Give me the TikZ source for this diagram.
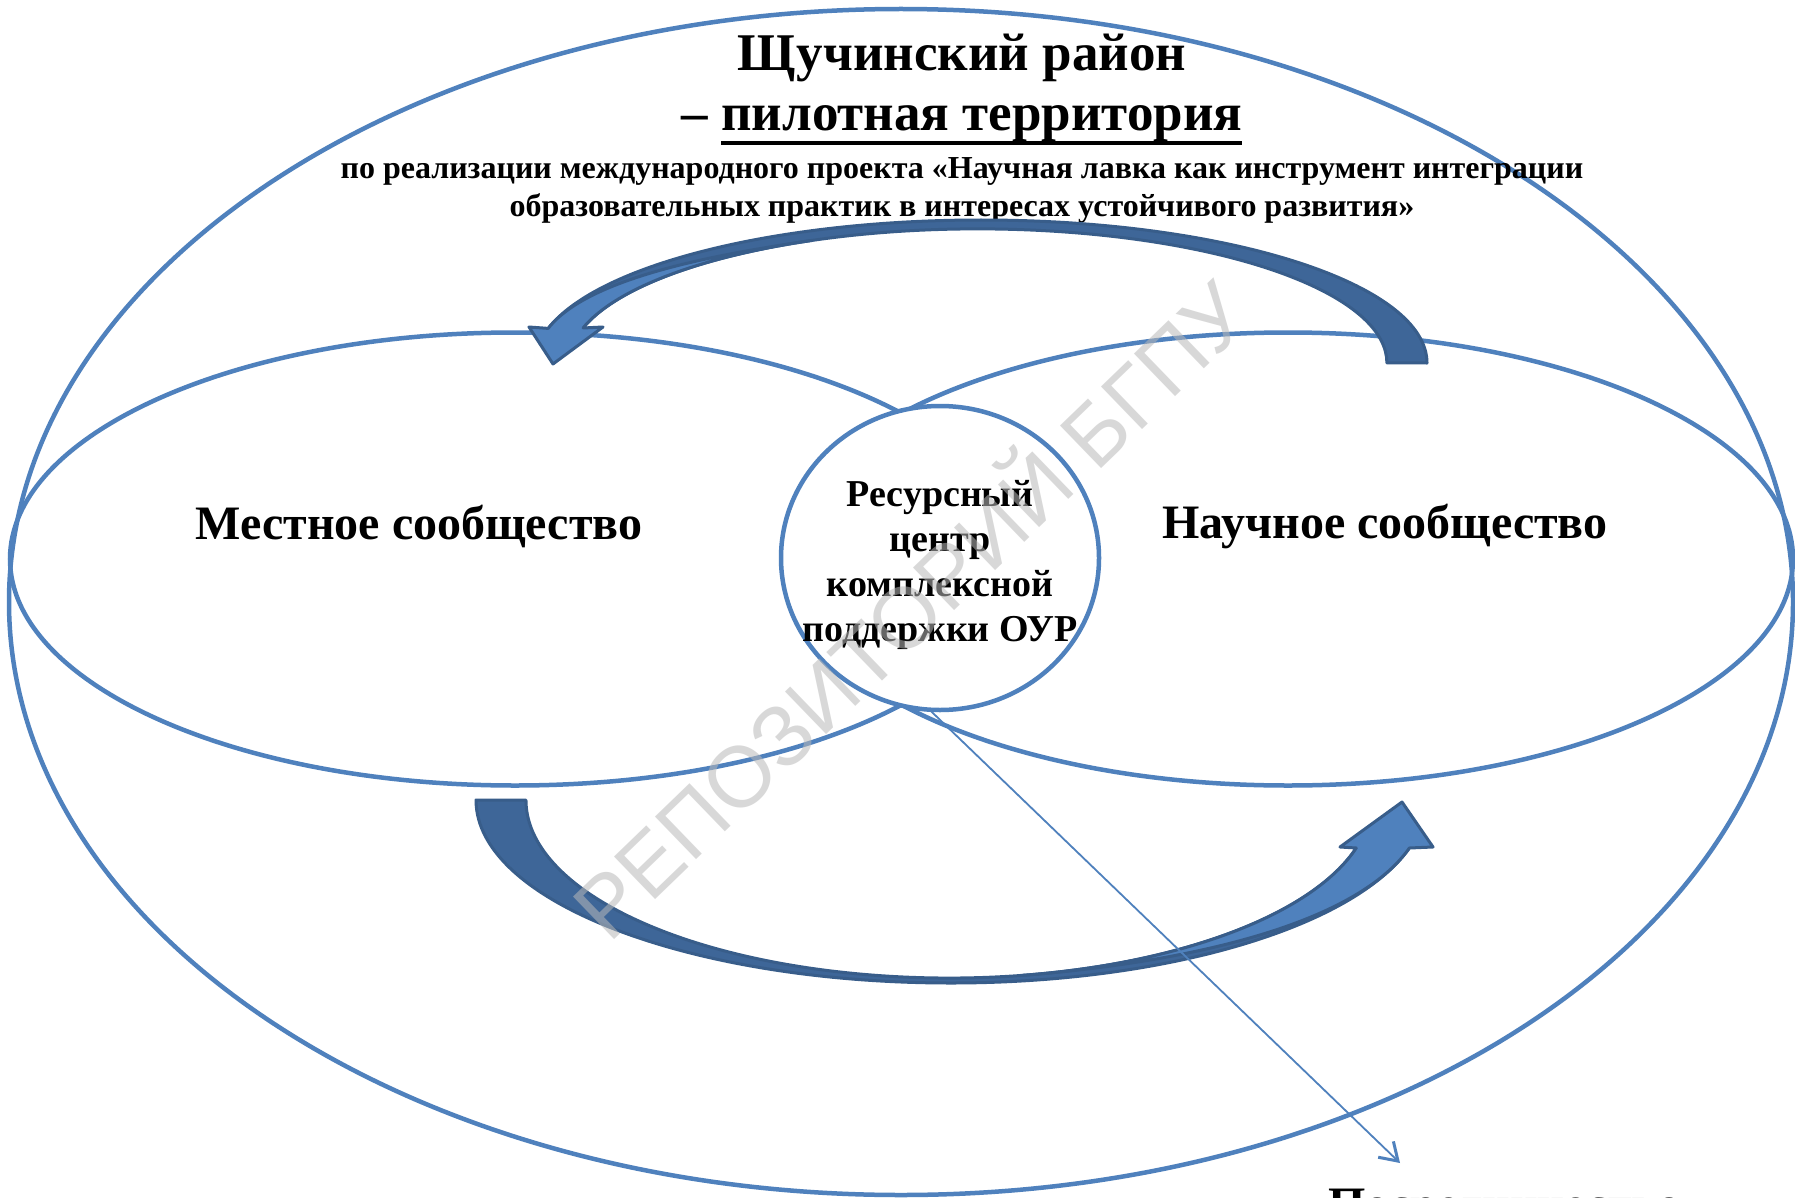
\documentclass[tikz,border=0pt]{standalone}
\usepackage{fontspec}
\setmainfont{Liberation Serif}
\newfontfamily\wmfont{Liberation Sans}
\usetikzlibrary{arrows.meta,shapes.geometric}
\definecolor{ellblue}{RGB}{79,129,189}
\definecolor{arrdark}{RGB}{62,102,152}
\definecolor{arrline}{RGB}{56,93,138}
\definecolor{arrlight}{RGB}{79,129,189}
\definecolor{wmgray}{RGB}{185,185,185}
\newcommand\thickul[1]{\setbox0\hbox{#1}\rlap{\rule[-14pt]{\wd0}{4pt}}\box0}
\begin{document}
\begin{tikzpicture}[x=1pt,y=-1pt,
  ring/.style={draw=ellblue, line width=4.5pt, ellipse, inner sep=0pt, outer sep=0pt},
  titletext/.style={font=\bfseries\fontsize{53}{58}\selectfont, inner sep=0pt, anchor=base},
  bigtext/.style={font=\bfseries\fontsize{48}{52}\selectfont, inner sep=0pt},
  subtext/.style={font=\bfseries\fontsize{32}{36}\selectfont, inner sep=0pt, anchor=base},
  circtext/.style={font=\bfseries\fontsize{38}{45}\selectfont, align=center, inner sep=0pt},
  darkband/.style={fill=arrdark, draw=arrline, line width=3pt, line join=round},
  lightband/.style={fill=arrlight, draw=arrline, line width=3pt, line join=round},
  conn/.style={draw=ellblue, line width=1.8pt, -{Straight Barb[length=17pt,width=22pt,line width=3pt]}},
  wm/.style={font=\wmfont\fontsize{86}{90}\selectfont, text=wmgray, text opacity=0.55, inner sep=0pt}
]
\fill[white] (0,0) rectangle (1795,1198);
\useasboundingbox (0,0) rectangle (1795,1198);

% ellipses
\node[ring, minimum width=1784pt, minimum height=1186pt] (outer) at (901,602) {};
\node[ring, minimum width=1010pt, minimum height=453pt] (local) at (515,559) {};
\node[ring, minimum width=1010pt, minimum height=453pt] (science) at (1288,559) {};
\node[ring, fill=white, minimum width=318pt, minimum height=304pt] (circ) at (940,558) {};

% texts
\node[titletext] (t1) at (962,71) {Щучинский район};
\node[titletext] (t2) at (962,131) {– \thickul{пилотная территория}};
\node[subtext] (s1) at (962,179) {по реализации международного проекта «Научная лавка как инструмент интеграции};
\node[subtext] (s2) at (962,217) {образовательных практик в интересах устойчивого развития»};
\node[bigtext] (lloc) at (419,526) {Местное сообщество};
\node[bigtext] (lsci) at (1385,526) {Научное сообщество};
\node[circtext] (lcirc) at (940,565) {Ресурсный\\центр\\комплексной\\поддержки ОУР};
\node[bigtext, anchor=base west] (bt) at (1328,1220) {Посредничество};

% top curved arrow (right -> left)
\path[darkband] (1427,363) arc[start angle=0,end angle=-166,x radius=446,y radius=143]
  -- (583,328) arc[start angle=-164.9,end angle=0,x radius=409,y radius=134] -- cycle;
\path[lightband] (583,328) -- (603,327) -- (553,364) -- (529,327) -- (548.2,328.4)
  .. controls (591,273) and (742,251) .. (811.5,240.5)
  arc[start angle=-114,end angle=-164.9,x radius=409,y radius=134] -- cycle;

% bottom curved arrow (left -> right)
\path[darkband] (476,800) arc[start angle=180,end angle=15.21,x radius=475,y radius=183]
  -- (1356.3,848) arc[start angle=15.64,end angle=180,x radius=423,y radius=178] -- cycle;
\path[lightband] (1356.3,848) -- (1340,847) -- (1402,802) -- (1433,847) -- (1409.4,848)
  .. controls (1339.4,947) and (1092,970) .. (1022.4,975.3)
  arc[start angle=80,end angle=15.64,x radius=423,y radius=178] -- cycle;

% connector
\coordinate (target) at (1400,1163);
\draw[conn] (circ.-94) -- (target);

% watermark
\node[wm, rotate=44] (wmark) at (905,605) {РЕПОЗИТОРИЙ БГПУ};
\end{tikzpicture}
\end{document}
